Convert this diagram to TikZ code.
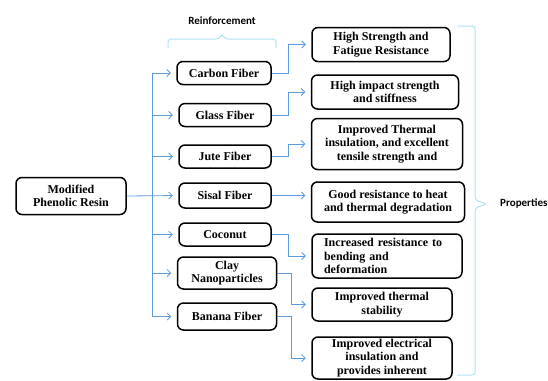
\documentclass[tikz,border=0pt]{standalone}
\usepackage{fontspec}
\setmainfont{Liberation Serif}
\newfontfamily\labelfont{Carlito}
\usepackage{tikz}
\usetikzlibrary{arrows.meta, positioning, calc}
\definecolor{linkblue}{RGB}{91,155,222}
\definecolor{bracecyan}{RGB}{175,228,242}
\tikzset{
  reinf/.style={rectangle, rounded corners=6pt, draw=black, line width=1.5pt, minimum width=92pt, minimum height=23pt, align=center, inner sep=2pt, font=\fontsize{12}{13.4}\selectfont\bfseries},
  resin/.style={reinf, minimum width=110pt, minimum height=37pt},
  prop/.style={reinf, minimum height=34pt},
  link/.style={draw=linkblue, line width=0.8pt},
  arrow/.style={link, -{Straight Barb[length=3.5pt, width=7pt]}, shorten >=5.5pt},
  curly/.style={draw=bracecyan, line width=1pt, rounded corners=3pt},
  heading/.style={font=\labelfont\fontsize{11}{13}\selectfont\bfseries, inner sep=0pt},
}

\begin{document}
\begin{tikzpicture}[x=1pt, y=-1pt]
\useasboundingbox (0,0) rectangle (548,380);

% resin and reinforcements
\node[resin] (resin) at (71,196) {Modified\\Phenolic Resin};
\node[reinf, minimum width=94pt] (carbon) at (224,73) {Carbon Fiber};
\node[reinf] (glass) at (225,115) {Glass Fiber};
\node[reinf] (jute) at (225,156.5) {Jute Fiber};
\node[reinf, minimum height=25pt] (sisal) at (225,195.5) {Sisal Fiber};
\node[reinf] (coconut) at (225,234.5) {Coconut};
\node[reinf, minimum width=99pt, minimum height=32pt] (clay) at (227,273) {Clay\\Nanoparticles};
\node[reinf, minimum width=99pt, minimum height=27pt] (banana) at (227,316.5) {Banana Fiber};

% properties
\node[prop, minimum width=138pt] (p1) at (381,44.5) {High Strength and\\Fatigue Resistance};
\node[prop, minimum width=147pt] (p2) at (385,92) {High impact strength\\and stiffness};
\node[prop, minimum width=151pt, minimum height=51pt] (p3) at (387,144) {Improved Thermal\\insulation, and excellent\\tensile strength and};
\node[prop, minimum width=153pt, minimum height=40pt] (p4) at (388,202) {Good resistance to heat\\and thermal degradation};
\node[prop, minimum width=150pt, minimum height=44pt, text width=126pt, align=left] (p5) at (387,256) {Increased resistance to\\bending and\\deformation};
\node[prop, minimum width=140pt, minimum height=33pt] (p6) at (382,304.5) {Improved thermal\\stability};
\node[prop, minimum width=140pt, minimum height=42pt] (p7) at (382,358) {Improved electrical\\insulation and\\provides inherent};

% headings
\node[heading] (reinfhead) at (222,21) {Reinforcement};
\node[heading, anchor=west] (prophead) at (500,203) {Properties};

\coordinate (trunk) at (152.5,0);
\coordinate (bendA) at (288,0);
\coordinate (bendB) at (291.5,0);

% left side
\draw[arrow] (resin.east) -- (sisal.west);
\draw[link] (trunk |- carbon.west) -- (trunk |- banana.west);
\foreach \n in {carbon, glass, jute, coconut, clay, banana}
  \draw[arrow] (trunk |- \n.west) -- (\n.west);

% right side
\draw[arrow] (carbon.east) -- (carbon.east -| bendA) |- (p1.west);
\draw[arrow] (glass.east) -- (glass.east -| bendA) |- (p2.west);
\draw[arrow] (jute.east) -- (jute.east -| bendA) |- (p3.west);
\draw[arrow] (sisal.east) -- (sisal.east -| p4.west);
\draw[arrow] (coconut.east) -- (coconut.east -| bendA) |- (p5.west);
\draw[arrow] (clay.east) -- (clay.east -| bendB) |- (p6.west);
\draw[arrow] (banana.east) -- (banana.east -| bendB) |- (p7.west);

% braces
\draw[curly] (168,48) -- (168,39) -- (219,39) -- (222,34) -- (225,39) -- (276,39) -- (276,48);
\draw[curly] (457,26) -- (475,26) -- (475,200) -- (487,204) -- (475,208) -- (475,375) -- (457,375);
\end{tikzpicture}
\end{document}
